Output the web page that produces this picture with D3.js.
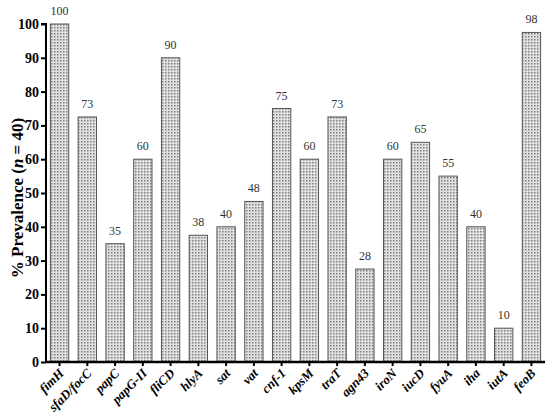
<!DOCTYPE html>
<html><head><meta charset="utf-8">
<script src="https://cdn.jsdelivr.net/npm/d3@7/dist/d3.min.js"></script>
<style>body{margin:0;background:#fff}svg{display:block}</style>
</head><body>
<svg id="c" width="550" height="419"></svg>
<script>
const genes = ["fimH","sfaD/focC","papC","papG-II","fliCD","hlyA","sat","vat","cnf-1","kpsM","traT","agn43","iroN","iucD","fyuA","iha","iutA","feoB"];
const prevalence = [100,72.5,35,60,90,37.5,40,47.5,75,60,72.5,27.5,60,65,55,40,10,97.5];
const valueLabels = ["100","73","35","60","90","38","40","48","75","60","73","28","60","65","55","40","10","98"];
const yTicks = [0,10,20,30,40,50,60,70,80,90,100];

const svg = d3.select("#c");
const defs = svg.append("defs");
const pat = defs.append("pattern").attr("id","dots").attr("patternUnits","userSpaceOnUse")
  .attr("width",3).attr("height",3);
pat.append("rect").attr("width",3).attr("height",3).attr("fill","#e0e0e0");
pat.append("rect").attr("x",0).attr("y",0).attr("width",1.5).attr("height",1.5).attr("fill","#808080");

const axX = 46, y0 = 362, y100 = 24;
const x = d3.scaleBand().domain(genes).range([50.4, 540.6]).paddingInner(0.34).paddingOuter(0);
const y = d3.scaleLinear().domain([0,100]).range([y0, y100]);

// bars
svg.append("g").selectAll("rect").data(genes).join("rect")
  .attr("x", d => x(d)).attr("width", x.bandwidth())
  .attr("y", (d,i) => y(prevalence[i])).attr("height", (d,i) => y0 - y(prevalence[i]))
  .attr("fill","url(#dots)").attr("stroke","#555").attr("stroke-width",1);

// value labels
svg.append("g").selectAll("text").data(genes).join("text")
  .attr("x", d => x(d) + x.bandwidth()/2).attr("y", (d,i) => y(prevalence[i]) - 9)
  .attr("text-anchor","middle").attr("font-family","Liberation Serif, serif").attr("font-size",12)
  .attr("fill","#333").text((d,i) => valueLabels[i]);

// y axis
const yAxis = d3.axisLeft(y).tickValues(yTicks).tickSize(5).tickPadding(2);
const gy = svg.append("g").attr("transform",`translate(${axX},0)`).call(yAxis);
gy.select(".domain").attr("stroke","#000").attr("stroke-width",2).attr("d",`M-5,${y100}H0V${y0}`);
gy.selectAll(".tick line").attr("stroke","#000").attr("stroke-width",2);
gy.selectAll(".tick text").attr("font-family","Liberation Serif, serif").attr("font-weight","bold")
  .attr("font-size",14).attr("fill","#000");

// x axis
const xAxis = d3.axisBottom(x).tickSize(4).tickFormat("");
const gx = svg.append("g").attr("transform",`translate(0,${y0})`).call(xAxis);
gx.select(".domain").attr("stroke","#000").attr("stroke-width",2.5).attr("d",`M${axX},0H545`);
gx.selectAll(".tick line").attr("stroke","#000").attr("stroke-width",2);

// x labels, rotated -45
svg.append("g").selectAll("text").data(genes).join("text")
  .attr("transform", d => `translate(${x(d)+x.bandwidth()/2+5},${y0+12}) rotate(-45)`)
  .attr("text-anchor","end").attr("font-family","Liberation Serif, serif").attr("font-weight","bold")
  .attr("font-style","italic").attr("font-size",13).attr("fill","#000").text(d => d);

// y title
const t = svg.append("text").attr("transform",`translate(23,198) rotate(-90)`)
  .attr("text-anchor","middle").attr("font-family","Liberation Serif, serif").attr("font-weight","bold")
  .attr("font-size",17).attr("fill","#000");
t.append("tspan").text("% Prevalence  (");
t.append("tspan").attr("font-style","italic").text("n");
t.append("tspan").text(" = 40)");
</script>
</body></html>
